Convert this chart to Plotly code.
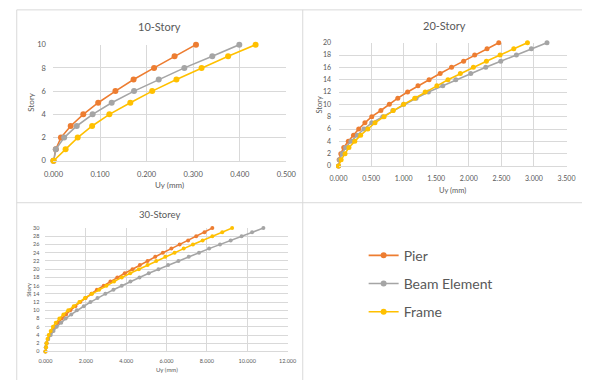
import plotly.graph_objects as go

# Storey drift profiles: lateral displacement Uy (mm) at each storey level
stories_10 = list(range(0, 11))
pier_10 = [0.000, 0.005, 0.016, 0.037, 0.064, 0.096, 0.133, 0.172, 0.216, 0.260, 0.306]
beam_10 = [0.000, 0.005, 0.023, 0.050, 0.084, 0.125, 0.173, 0.226, 0.281, 0.341, 0.399]
frame_10 = [0.000, 0.026, 0.052, 0.083, 0.120, 0.165, 0.212, 0.264, 0.318, 0.375, 0.434]

stories_20 = list(range(0, 21))
pier_20 = [0.000, 0.010, 0.035, 0.080, 0.150, 0.230, 0.310, 0.405, 0.510, 0.650, 0.780,
           0.910, 1.060, 1.220, 1.390, 1.560, 1.735, 1.920, 2.090, 2.280, 2.460]
beam_20 = [0.000, 0.015, 0.055, 0.110, 0.190, 0.290, 0.390, 0.510, 0.680, 0.835, 1.000,
           1.190, 1.380, 1.600, 1.800, 2.030, 2.260, 2.490, 2.730, 2.960, 3.200]
frame_20 = [0.000, 0.040, 0.100, 0.160, 0.250, 0.340, 0.450, 0.560, 0.700, 0.840, 1.000,
            1.170, 1.330, 1.510, 1.680, 1.870, 2.070, 2.270, 2.480, 2.690, 2.900]

stories_30 = list(range(0, 31))
pier_30 = [0.00, 0.02, 0.06, 0.13, 0.22, 0.34, 0.48, 0.64, 0.81, 1.02, 1.23,
           1.48, 1.72, 1.99, 2.28, 2.55, 2.89, 3.22, 3.56, 3.93, 4.31,
           4.68, 5.06, 5.44, 5.82, 6.24, 6.65, 7.07, 7.47, 7.88, 8.27]
beam_30 = [0.00, 0.02, 0.05, 0.14, 0.26, 0.40, 0.56, 0.78, 1.00, 1.28, 1.56,
           1.90, 2.23, 2.58, 2.97, 3.37, 3.78, 4.21, 4.66, 5.12, 5.60,
           6.08, 6.59, 7.10, 7.61, 8.11, 8.65, 9.18, 9.72, 10.24, 10.80]
frame_30 = [0.00, 0.03, 0.05, 0.10, 0.16, 0.26, 0.37, 0.51, 0.69, 0.89, 1.13,
            1.40, 1.68, 1.96, 2.31, 2.66, 3.02, 3.40, 3.78, 4.20, 4.63,
            5.06, 5.49, 5.94, 6.40, 6.85, 7.31, 7.79, 8.27, 8.76, 9.25]

series_names = ["Pier", "Beam Element", "Frame"]
series_colors = ["#ED7D31", "#A5A5A5", "#FFC000"]

W, H = 592, 385
FONT = "Lato, 'Open Sans', sans-serif"
TEXT = "#595959"
GRID = "#D9D9D9"
CLEAR = "rgba(0,0,0,0)"


def px(x):
    return x / W


def py(y):
    return (H - y) / H


fig = go.Figure()

panels = [
    # (axis suffix, stories, data, x domain px, y domain px (bottom, top), x range,
    #  x step, y step, title, marker size, tick font size, x-label gap, y-label gap)
    ("", stories_10, [pier_10, beam_10, frame_10], (45, 286), (160, 40.7), (0, 0.5), 0.1, 2, "10-Story", 6, 7.5, 6, 5),
    ("2", stories_20, [pier_20, beam_20, frame_20], (340, 576), (165.3, 38.7), (0, 3.5), 0.5, 2, "20-Story", 5, 7, 6, 5),
    ("3", stories_30, [pier_30, beam_30, frame_30], (36.7, 287.3), (355.7, 229), (0, 12), 2, 2, "30-Storey", 4, 5.5, 4, 4),
]

for i, (sfx, st, data, xd, yd, xr, dx, dy, title, msize, tfont, xgap, ygap) in enumerate(panels):
    for k, (vals, name, col) in enumerate(zip(data, series_names, series_colors)):
        fig.add_trace(go.Scatter(
            x=vals, y=st, mode="lines+markers", name=name,
            line=dict(color=col, width=1.6),
            marker=dict(color=col, size=msize),
            xaxis="x" + sfx, yaxis="y" + sfx,
            cliponaxis=False,
            showlegend=(i == 0), legendgroup=name,
        ))
    fig.update_layout(**{
        "xaxis" + sfx: dict(
            domain=[px(xd[0]), px(xd[1])], range=list(xr), dtick=dx, tickformat=".3f",
            showgrid=True, gridcolor=GRID, gridwidth=1, zeroline=False,
            showline=True, linecolor=GRID,
            ticks="outside", ticklen=xgap, tickcolor=CLEAR, anchor="y" + sfx,
            tickfont=dict(family=FONT, size=tfont, color=TEXT), fixedrange=True,
        ),
        "yaxis" + sfx: dict(
            domain=[py(yd[0]), py(yd[1])], range=[0, st[-1]], dtick=dy,
            showgrid=True, gridcolor=GRID, gridwidth=1, zeroline=False,
            showline=False,
            ticks="outside", ticklen=ygap, tickcolor=CLEAR, anchor="x" + sfx,
            tickfont=dict(family=FONT, size=tfont, color=TEXT), fixedrange=True,
        ),
    })

annotations = [
    dict(text="10-Story", x=px(155), y=py(22), size=11),
    dict(text="20-Story", x=px(450), y=py(21), size=11),
    dict(text="30-Storey", x=px(155), y=py(215.5), size=9.5),
    dict(text="Uy (mm)", x=px(165), y=py(185), size=8),
    dict(text="Uy (mm)", x=px(458), y=py(190.5), size=7.5),
    dict(text="Uy (mm)", x=px(162), y=py(374), size=6),
    dict(text="Story", x=px(22), y=py(100), size=8, angle=-90),
    dict(text="Story", x=px(320), y=py(102), size=7.5, angle=-90),
    dict(text="Story", x=px(19), y=py(292), size=6, angle=-90),
]
fig.update_layout(annotations=[
    dict(text=a["text"], x=a["x"], y=a["y"], xref="paper", yref="paper",
         showarrow=False, xanchor="center", yanchor="middle",
         textangle=a.get("angle", 0),
         font=dict(family=FONT, size=a["size"], color=TEXT))
    for a in annotations
])

# Chart-area frame lines separating the three panels
frame_lines = [
    (px(7), py(5), px(592), py(5)),
    (px(7), py(5), px(7), py(385)),
    (px(303), py(5), px(303), py(385)),
    (px(7), py(203), px(592), py(203)),
]
fig.update_layout(shapes=[
    dict(type="line", xref="paper", yref="paper", x0=a, y0=b, x1=c, y1=d,
         line=dict(color="#D9D9D9", width=1))
    for a, b, c, d in frame_lines
])

fig.update_layout(
    width=W, height=H,
    margin=dict(l=0, r=0, t=0, b=0),
    paper_bgcolor="white", plot_bgcolor="white",
    legend=dict(
        x=px(366), y=py(241), xanchor="left", yanchor="top",
        font=dict(family=FONT, size=14, color=TEXT),
        traceorder="grouped", tracegroupgap=7,
        itemwidth=30, bgcolor="rgba(0,0,0,0)",
    ),
)

fig.write_html("out.html")
